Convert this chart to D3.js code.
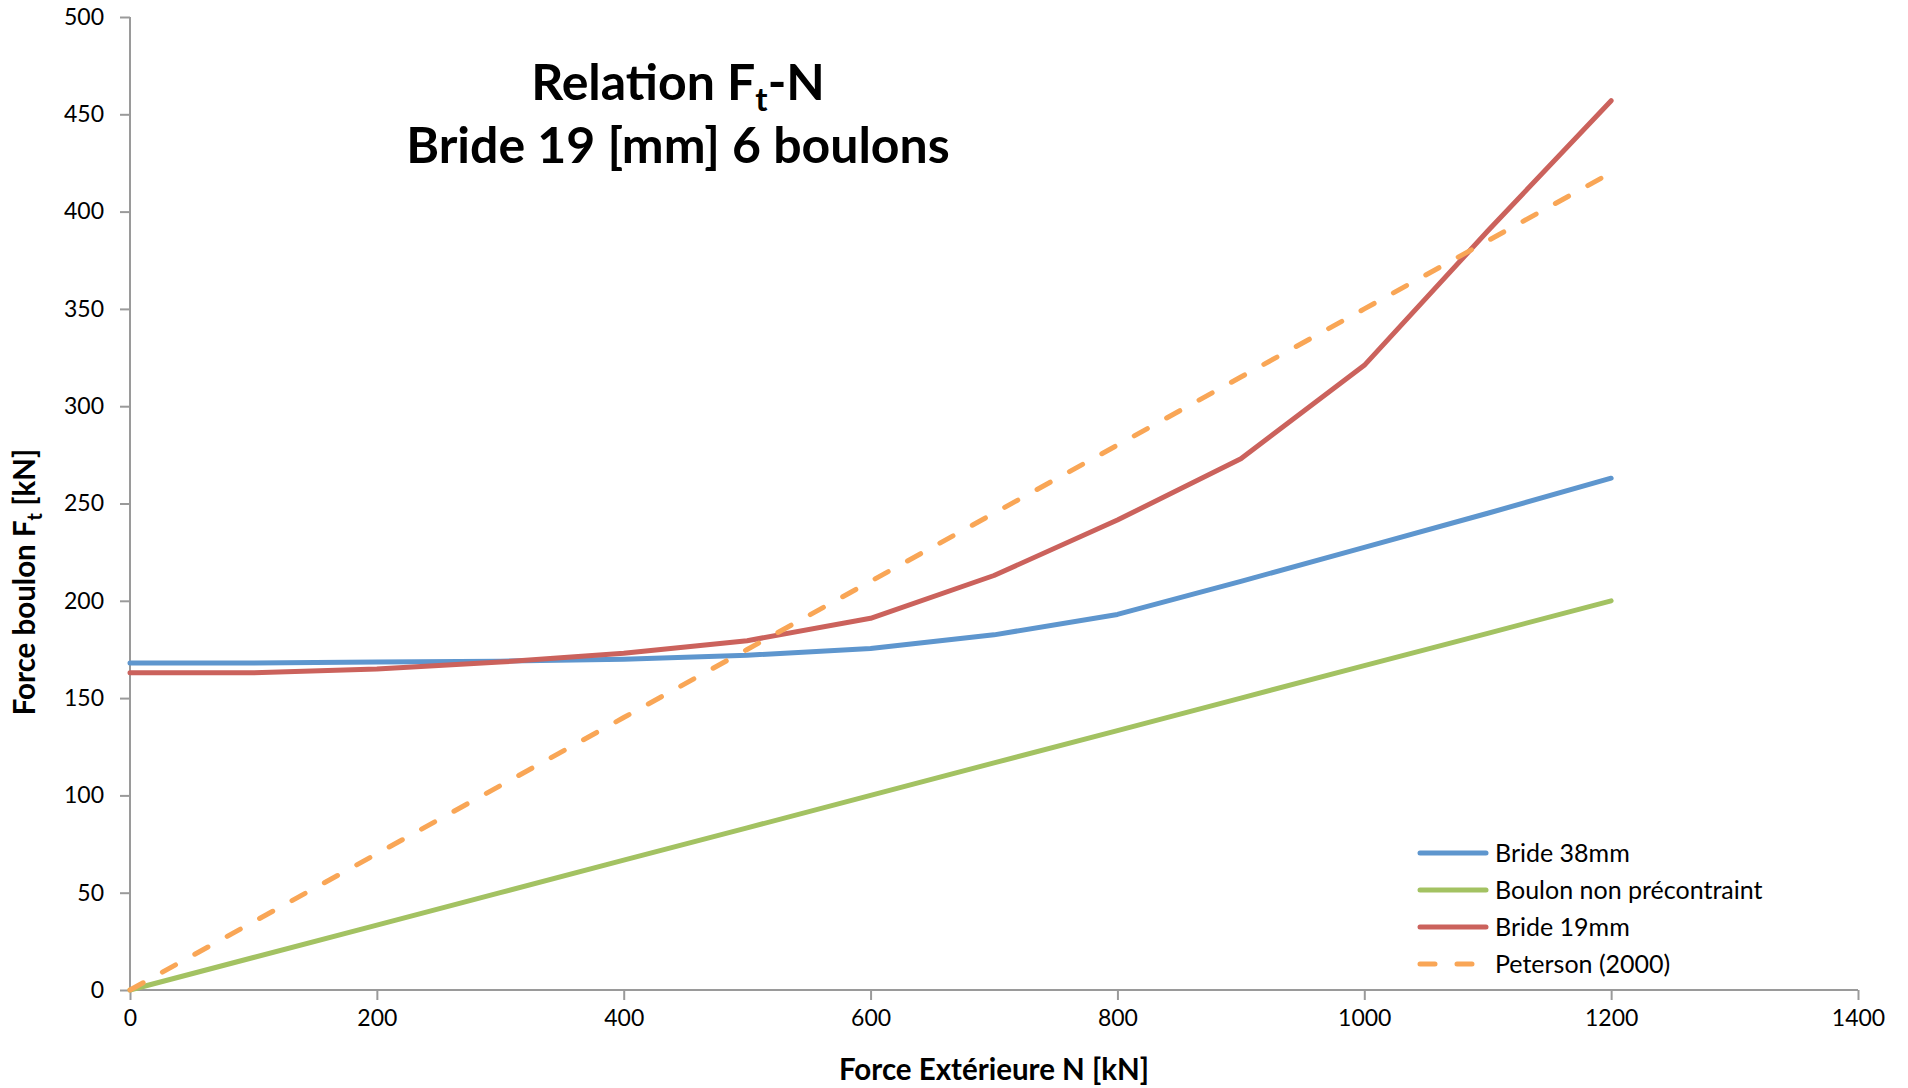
<!DOCTYPE html>
<html>
<head>
<meta charset="utf-8">
<script src="https://cdn.jsdelivr.net/npm/d3@7"></script>
<style>
  html, body { margin: 0; padding: 0; background: #fff; }
  svg { display: block; font-family: Lato, "Open Sans", sans-serif; }
</style>
</head>
<body>
<svg id="chart" width="1908" height="1088"></svg>
<script>
// External force N [kN]
const forceN = [0, 100, 200, 300, 400, 500, 600, 700, 800, 900, 1000, 1100, 1200];

// Bolt force Ft [kN] for each configuration
const bride38 = [168, 168, 168.5, 169, 170, 172, 175.5, 182.5, 193, 210, 227.5, 245, 263];
const boulonNonPrecontraint = [0, 16.7, 33.3, 50, 66.7, 83.3, 100, 116.7, 133.3, 150, 166.7, 183.3, 200];
const bride19 = [163, 163, 165, 168.5, 173, 179.5, 191, 213, 241.5, 273, 321, 390, 457];
const peterson2000 = [0, 35, 70, 105, 140, 175, 210, 245, 280, 315, 350, 385, 420];

const xTicks = [0, 200, 400, 600, 800, 1000, 1200, 1400];
const yTicks = [0, 50, 100, 150, 200, 250, 300, 350, 400, 450, 500];

const seriesNames = ["Bride 38mm", "Boulon non précontraint", "Bride 19mm", "Peterson (2000)"];
const seriesValues = [bride38, boulonNonPrecontraint, bride19, peterson2000];
const seriesColors = ["#5E96CE", "#A3C262", "#CB625C", "#F9A656"];
const seriesDashed = [false, false, false, true];

const svg = d3.select("#chart");
const plotLeft = 130, plotRight = 1858, plotTop = 17, plotBottom = 990;

const x = d3.scaleLinear().domain([0, 1400]).range([plotLeft, plotRight]);
const y = d3.scaleLinear().domain([0, 500]).range([plotBottom, plotTop]);

const axisColor = "#9a9a9a";

// Axes
const xAxis = svg.append("g")
  .attr("transform", `translate(0,${plotBottom})`)
  .call(d3.axisBottom(x).tickValues(xTicks).tickSize(10).tickPadding(10).tickFormat(d3.format("d")));
const yAxis = svg.append("g")
  .attr("transform", `translate(${plotLeft},0)`)
  .call(d3.axisLeft(y).tickValues(yTicks).tickSize(10).tickPadding(16).tickFormat(d3.format("d")));

[xAxis, yAxis].forEach(g => {
  g.select(".domain").attr("stroke", axisColor).attr("stroke-width", 2);
  g.selectAll(".tick line").attr("stroke", axisColor).attr("stroke-width", 2);
  g.selectAll(".tick text")
    .attr("fill", "#000")
    .style("font-family", "Lato, sans-serif")
    .style("font-size", "23px");
});
// the axes meet without outer end ticks
xAxis.select(".domain").attr("d", `M${plotLeft},0H${plotRight}`);
yAxis.select(".domain").attr("d", `M0,${plotBottom}V${plotTop}`);

// Series lines
const line = d3.line()
  .x((d, i) => x(forceN[i]))
  .y(d => y(d));

seriesValues.forEach((vals, k) => {
  svg.append("path")
    .datum(vals)
    .attr("d", line)
    .attr("fill", "none")
    .attr("stroke", seriesColors[k])
    .attr("stroke-width", 5)
    .attr("stroke-linejoin", "round")
    .attr("stroke-linecap", "round")
    .attr("stroke-dasharray", seriesDashed[k] ? "15,22" : null);
});

// Legend
const legend = svg.append("g").attr("transform", "translate(1418,853)");
seriesNames.forEach((name, k) => {
  const row = legend.append("g").attr("transform", `translate(0,${k * 37})`);
  row.append("line")
    .attr("x1", 2).attr("x2", 68).attr("y1", 0).attr("y2", 0)
    .attr("stroke", seriesColors[k])
    .attr("stroke-width", 5)
    .attr("stroke-linecap", "round")
    .attr("stroke-dasharray", seriesDashed[k] ? "15,22" : null);
  row.append("text")
    .attr("x", 77).attr("y", 0).attr("dy", "0.36em")
    .attr("fill", "#000")
    .style("font-size", "25px")
    .text(name);
});

// Title
const title = svg.append("text")
  .attr("text-anchor", "middle")
  .attr("fill", "#000")
  .style("font-weight", "bold")
  .style("font-size", "50px");
const t1 = title.append("tspan").attr("x", 678).attr("y", 100);
t1.append("tspan").text("Relation F");
t1.append("tspan").attr("dy", 11).style("font-size", "33px").text("t");
t1.append("tspan").attr("dy", -11).text("-N");
title.append("tspan").attr("x", 678).attr("y", 163).text("Bride 19 [mm] 6 boulons");

// Axis titles
svg.append("text")
  .attr("x", (plotLeft + plotRight) / 2).attr("y", 1080)
  .attr("text-anchor", "middle")
  .attr("fill", "#000")
  .style("font-weight", "bold")
  .style("font-size", "29.5px")
  .text("Force Extérieure N [kN]");

const yTitle = svg.append("text")
  .attr("transform", "translate(35,582) rotate(-90)")
  .attr("text-anchor", "middle")
  .attr("fill", "#000")
  .style("font-weight", "bold")
  .style("font-size", "29.5px");
yTitle.append("tspan").text("Force boulon F");
yTitle.append("tspan").attr("dy", 7).style("font-size", "20px").text("t");
yTitle.append("tspan").attr("dy", -7).text(" [kN]");
</script>
</body>
</html>
